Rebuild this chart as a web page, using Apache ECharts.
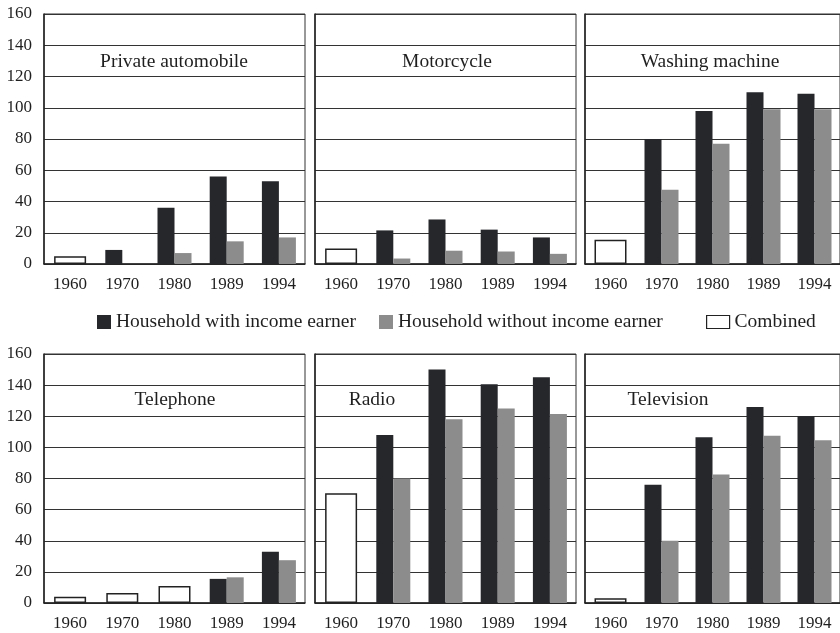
<!DOCTYPE html>
<html>
<head>
<meta charset="utf-8">
<script src="https://cdn.jsdelivr.net/npm/echarts@6/dist/echarts.min.js"></script>
<style>
html,body{margin:0;padding:0;background:#fff;}
#chart{width:840px;height:633px;}
</style>
</head>
<body>
<div id="chart"></div>
<script>
// ---- data ----
var categories = ['1960', '1970', '1980', '1989', '1994'];
var panelNames = ['Private automobile', 'Motorcycle', 'Washing machine', 'Telephone', 'Radio', 'Television'];
var yTicks = [0, 20, 40, 60, 80, 100, 120, 140, 160];

var withEarner = [
  [null, 9, 36, 56, 53],
  [null, 21.5, 28.5, 22, 17],
  [null, 80, 98, 110, 109],
  [null, null, null, 15.5, 33],
  [null, 108, 150, 140.5, 145],
  [null, 76, 106.5, 126, 120]
];
var withoutEarner = [
  [null, null, 7, 14.5, 17],
  [null, 3.5, 8.5, 8, 6.5],
  [null, 47.5, 77, 99, 99],
  [null, null, null, 16.5, 27.5],
  [null, 80, 118, 125, 121.5],
  [null, 40, 82.5, 107.5, 104.5]
];
var combined = [
  [5, null, null, null, null],
  [10, null, null, null, null],
  [15.5, null, null, null, null],
  [4, 6.5, 11, null, null],
  [70.5, null, null, null, null],
  [3, null, null, null, null]
];
var seriesNames = ['Household with income earner', 'Household without income earner', 'Combined'];

// ---- layout / style ----
var FONT = 'Liberation Serif';
var TXT = '#1f1f1f';
var DARK = '#26272b';
var GRAY = '#8d8c8d';
var colLeft = [44, 315, 585];
var rowTop = [14, 354];
var rowH = [250, 249];
var panelW = 261;
var titlePos = [[174, 62], [447, 62], [710, 62], [175, 400], [372, 400], [668, 400]];

var grids = [], xAxes = [], yAxes = [], series = [], graphics = [];
for (var i = 0; i < 6; i++) {
  var r = Math.floor(i / 3), c = i % 3;
  grids.push({
    left: colLeft[c], top: rowTop[r], width: panelW, height: rowH[r],
    show: true, borderColor: '#333', borderWidth: 1, backgroundColor: '#fff',
    containLabel: false
  });
  xAxes.push({
    type: 'category', gridIndex: i, data: categories,
    axisTick: { show: false },
    axisLine: { show: true, lineStyle: { color: '#222', width: 1.5 } },
    axisLabel: { color: TXT, fontFamily: FONT, fontSize: 17, margin: 12 },
    splitLine: { show: false }
  });
  xAxes.push({
    type: 'category', gridIndex: i, data: categories, show: false
  });
  yAxes.push({
    type: 'value', gridIndex: i, min: 0, max: 160, interval: 20,
    axisLine: { show: true, lineStyle: { color: '#222', width: 1.5 } },
    axisTick: { show: false },
    axisLabel: { show: c === 0, color: TXT, fontFamily: FONT, fontSize: 17, margin: 12 },
    splitLine: { show: true, lineStyle: { color: '#333', width: 1 } }
  });
  series.push({
    name: seriesNames[0], type: 'bar', xAxisIndex: 2 * i, yAxisIndex: i,
    data: withEarner[i], barWidth: 17, barGap: '0%',
    itemStyle: { color: DARK }
  });
  series.push({
    name: seriesNames[1], type: 'bar', xAxisIndex: 2 * i, yAxisIndex: i,
    data: withoutEarner[i], barWidth: 17, barGap: '0%',
    itemStyle: { color: GRAY }
  });
  series.push({
    name: seriesNames[2], type: 'bar', xAxisIndex: 2 * i + 1, yAxisIndex: i,
    data: combined[i], barWidth: 32,
    itemStyle: { color: '#fff', borderColor: '#222', borderWidth: 1.5 }
  });
  graphics.push({
    type: 'text', x: titlePos[i][0], y: titlePos[i][1], z: 100,
    style: {
      text: panelNames[i], fill: TXT, font: '19.5px "' + FONT + '"',
      textAlign: 'center', textVerticalAlign: 'middle'
    }
  });
}

var legendBase = {
  top: 307, orient: 'horizontal', itemGap: 20, itemWidth: 14, itemHeight: 14,
  selectedMode: false,
  textStyle: { color: TXT, fontFamily: FONT, fontSize: 19.5 }
};
var legends = [
  Object.assign({}, legendBase, { left: 92, data: [{ name: seriesNames[0], icon: 'rect', itemStyle: { color: DARK, borderWidth: 0 } }] }),
  Object.assign({}, legendBase, { left: 374, data: [{ name: seriesNames[1], icon: 'rect', itemStyle: { color: GRAY, borderWidth: 0 } }] }),
  Object.assign({}, legendBase, { left: 701, itemWidth: 23, itemHeight: 13, data: [{ name: seriesNames[2], icon: 'rect', itemStyle: { color: '#fff', borderColor: '#222', borderWidth: 1.2 } }] })
];

var chart = echarts.init(document.getElementById('chart'), null, { renderer: 'canvas' });
chart.setOption({
  animation: false,
  backgroundColor: '#fff',
  grid: grids,
  xAxis: xAxes,
  yAxis: yAxes,
  legend: legends,
  series: series,
  graphic: graphics
});
</script>
</body>
</html>
